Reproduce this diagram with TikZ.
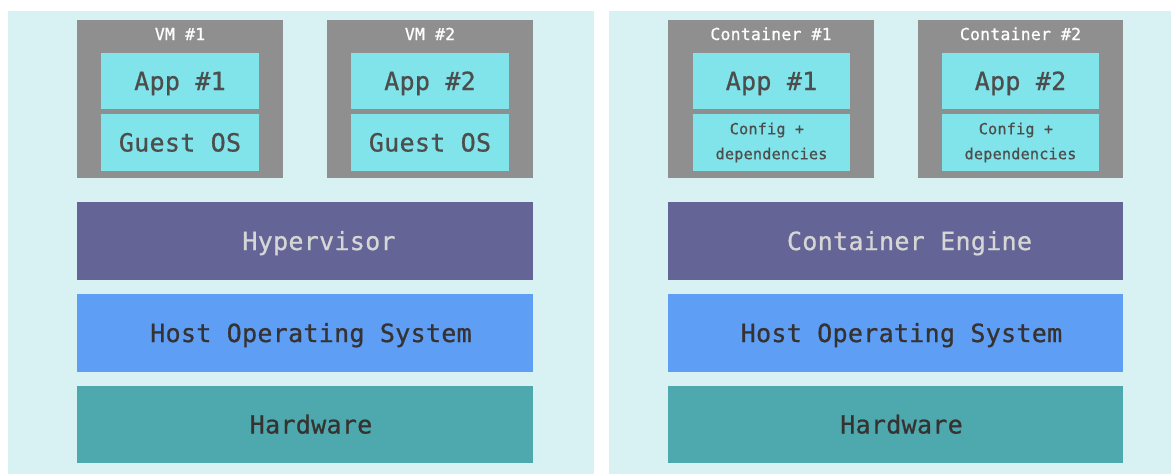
\documentclass[tikz,border=0pt]{standalone}
\usepackage{fontspec}
\setmonofont{DejaVu Sans Mono}
\newfontfamily\boxfont{DejaVu Sans Mono}[FakeBold=0.8, LetterSpace=1.2]
\definecolor{panelbg}{HTML}{D8F1F3}
\definecolor{vmgray}{HTML}{8F8F8F}
\definecolor{appcyan}{HTML}{80E4EA}
\definecolor{hypcol}{HTML}{646496}
\definecolor{hostcol}{HTML}{5E9EF4}
\definecolor{hwcol}{HTML}{4DA9AE}
\definecolor{apptext}{HTML}{4D4D4D}
\definecolor{bartext}{HTML}{363232}
\definecolor{hyptext}{HTML}{D6D6D6}
\tikzset{
  box/.style={rectangle, inner sep=0pt, outer sep=0pt, draw=none},
  panel/.style={box, fill=panelbg, minimum height=463pt},
  vmbox/.style={box, fill=vmgray, minimum width=206pt, minimum height=158pt},
  vmlabel/.style={box, text=white, text height=12pt, text depth=0pt,
    font=\boxfont\fontsize{16.5}{20}\selectfont},
  appbox/.style={box, fill=appcyan, minimum width=158pt, text=apptext,
    text height=18pt, text depth=0pt,
    font=\boxfont\fontsize{25}{30}\selectfont},
  cfgbox/.style={box, fill=appcyan, minimum width=157pt, text=apptext,
    align=center, font=\boxfont\fontsize{15.2}{25}\selectfont},
  % layer labels sit a little right of centre
  layer/.style={box, minimum width=456pt, minimum height=78pt,
    text height=18pt, text depth=0pt,
    execute at begin node={\hspace*{12pt}},
    font=\boxfont\fontsize{25}{30}\selectfont},
  hyp/.style={layer, fill=hypcol, text=hyptext,
    execute at begin node={\hspace*{16pt}}},
  host/.style={layer, fill=hostcol, text=bartext},
  hw/.style={layer, fill=hwcol, text=bartext, minimum height=77pt},
}
\begin{document}
\begin{tikzpicture}[x=1pt, y=-1pt]
  \useasboundingbox (0,0) rectangle (1171,474);
  \fill[white] (0,0) rectangle (1171,474);

  % two backdrops
  \node[panel, minimum width=586pt] (vmside) at (301,242.5) {};
  \node[panel, minimum width=562pt] (ctside) at (890,242.5) {};

  % virtual machines
  \node[vmbox] (vm1) at (180,99) {};
  \node[vmlabel] (vm1lbl) at (180,34) {VM \#1};
  \node[appbox, minimum height=56pt] (vm1app) at (180,81) {App \#1};
  \node[appbox, minimum height=57pt] (vm1os) at (180,142.5) {Guest OS};

  \node[vmbox] (vm2) at (430,99) {};
  \node[vmlabel] (vm2lbl) at (430,34) {VM \#2};
  \node[appbox, minimum height=56pt] (vm2app) at (430,81) {App \#2};
  \node[appbox, minimum height=57pt] (vm2os) at (430,142.5) {Guest OS};

  % virtual machine stack
  \node[hyp] (hyper) at (305,241) {Hypervisor};
  \node[host] (hostl) at (305,333) {Host Operating System};
  \node[hw] (hwl) at (305,424.5) {Hardware};

  % containers
  \node[vmbox] (ct1) at (771,99) {};
  \node[vmlabel] (ct1lbl) at (771,34) {Container \#1};
  \node[appbox, minimum width=157pt, minimum height=56pt] (ct1app) at (771.5,81) {App \#1};
  \node[cfgbox, minimum height=57pt] (ct1cfg) at (771.5,142.5)
    {Config +\hphantom{x}\\dependencies};

  \node[vmbox, minimum width=205pt] (ct2) at (1020.5,99) {};
  \node[vmlabel] (ct2lbl) at (1020.5,34) {Container \#2};
  \node[appbox, minimum width=157pt, minimum height=56pt] (ct2app) at (1020.5,81) {App \#2};
  \node[cfgbox, minimum height=57pt] (ct2cfg) at (1020.5,142.5)
    {Config +\hphantom{x}\\dependencies};

  % container stack
  \node[hyp, minimum width=455pt] (engine) at (895.5,241) {Container Engine};
  \node[host, minimum width=455pt] (hostr) at (895.5,333) {Host Operating System};
  \node[hw, minimum width=455pt] (hwr) at (895.5,424.5) {Hardware};
\end{tikzpicture}
\end{document}
